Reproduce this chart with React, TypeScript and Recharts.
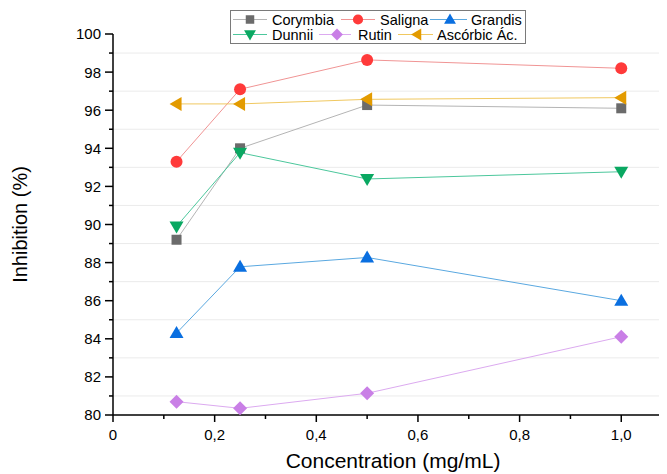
import React from 'react';
import { LineChart, Line, XAxis, YAxis, ReferenceLine } from 'recharts';

// ---- data ----
const concentrations = [0.125, 0.25, 0.5, 1.0];
const corymbia = [89.2, 94.0, 96.27, 96.1];
const saligna = [93.3, 97.1, 98.64, 98.2];
const grandis = [84.3, 87.78, 88.27, 86.0];
const dunnii = [89.9, 93.77, 92.39, 92.77];
const rutin = [80.7, 80.35, 81.14, 84.11];
const ascorbic = [96.33, 96.33, 96.57, 96.66];

const xTicks = [0, 0.1, 0.2, 0.3, 0.4, 0.5, 0.6, 0.7, 0.8, 0.9, 1.0];
const xLabeled = [0, 0.2, 0.4, 0.6, 0.8, 1.0];
const yTicks = [80, 81, 82, 83, 84, 85, 86, 87, 88, 89, 90, 91, 92, 93, 94, 95, 96, 97, 98, 99, 100];
const yLabeled = [80, 82, 84, 86, 88, 90, 92, 94, 96, 98, 100];
const gridValues = [81, 83, 85, 87, 89, 91, 93, 95, 97, 99];

type Kind = 'square' | 'circle' | 'up' | 'down' | 'diamond' | 'left';

const series: { key: string; name: string; values: number[]; marker: string; line: string; kind: Kind }[] = [
  { key: 'corymbia', name: 'Corymbia', values: corymbia, marker: '#6b6b6b', line: '#b4b4b4', kind: 'square' },
  { key: 'saligna', name: 'Saligna', values: saligna, marker: '#ff3a3a', line: '#f09494', kind: 'circle' },
  { key: 'grandis', name: 'Grandis', values: grandis, marker: '#0a6fe0', line: '#5aa8e0', kind: 'up' },
  { key: 'dunnii', name: 'Dunnii', values: dunnii, marker: '#0aa862', line: '#4cc79c', kind: 'down' },
  { key: 'rutin', name: 'Rutin', values: rutin, marker: '#c97fe6', line: '#dcaaf0', kind: 'diamond' },
  { key: 'ascorbic', name: 'Ascórbic Ác.', values: ascorbic, marker: '#e39b00', line: '#f0c860', kind: 'left' },
];

const data = concentrations.map((x, i) => {
  const row: Record<string, number> = { x };
  series.forEach((s) => {
    row[s.key] = s.values[i];
  });
  return row;
});

const FONT = '"Liberation Sans", Arial, sans-serif';

function Marker({ kind, cx, cy, color, s = 1 }: { kind: Kind; cx: number; cy: number; color: string; s?: number }) {
  if (cx == null || cy == null) return null;
  switch (kind) {
    case 'square':
      return <rect x={cx - 5 * s} y={cy - 5 * s} width={10 * s} height={10 * s} fill={color} />;
    case 'circle':
      return <circle cx={cx} cy={cy} r={6 * s} fill={color} />;
    case 'up':
      return <polygon points={`${cx},${cy - 7 * s} ${cx - 7 * s},${cy + 5 * s} ${cx + 7 * s},${cy + 5 * s}`} fill={color} />;
    case 'down':
      return <polygon points={`${cx},${cy + 7 * s} ${cx - 7 * s},${cy - 5 * s} ${cx + 7 * s},${cy - 5 * s}`} fill={color} />;
    case 'diamond':
      return <polygon points={`${cx},${cy - 7 * s} ${cx + 7 * s},${cy} ${cx},${cy + 7 * s} ${cx - 7 * s},${cy}`} fill={color} />;
    case 'left':
      return <polygon points={`${cx - 7 * s},${cy} ${cx + 5 * s},${cy - 7 * s} ${cx + 5 * s},${cy + 7 * s}`} fill={color} />;
  }
  return null;
}

const fmt = (v: number) => (v === 0 ? '0' : v.toFixed(1).replace('.', ','));

function XTick(props: any) {
  const { x, y, payload } = props;
  const v = payload.value as number;
  const major = xLabeled.some((m) => Math.abs(m - v) < 1e-9);
  return (
    <g>
      <line x1={x} x2={x} y1={y} y2={y + (major ? 7 : 4)} stroke="#000" strokeWidth={1.5} />
      {major && (
        <text x={x} y={y + 25} textAnchor="middle" fontSize={15} fontFamily={FONT} fill="#000">
          {fmt(v)}
        </text>
      )}
    </g>
  );
}

function YTick(props: any) {
  const { x, y, payload } = props;
  const v = payload.value as number;
  const major = yLabeled.includes(v);
  return (
    <g>
      <line x1={x} x2={x - (major ? 8 : 4)} y1={y} y2={y} stroke="#000" strokeWidth={1.5} />
      {major && (
        <text x={x - 12} y={y} dy="0.36em" textAnchor="end" fontSize={15} fontFamily={FONT} fill="#000">
          {v}
        </text>
      )}
    </g>
  );
}

const legendLayout = [
  { row: 0, l0: 3, l1: 37, m: 20, t: 42 },
  { row: 0, l0: 111, l1: 145, m: 128, t: 150 },
  { row: 0, l0: 200, l1: 237, m: 220, t: 241 },
  { row: 1, l0: 3, l1: 37, m: 20, t: 42 },
  { row: 1, l0: 89, l1: 121, m: 107, t: 128 },
  { row: 1, l0: 168, l1: 203, m: 187, t: 207 },
];

function LegendBox() {
  return (
    <svg width={297} height={35} style={{ position: 'absolute', left: 222, top: 2 }}>
      <rect x={0.5} y={0.5} width={295} height={33} fill="#fff" stroke="#7a7a7a" strokeWidth={1} />
      {series.map((s, i) => {
        const L = legendLayout[i];
        const cy = L.row === 0 ? 9.5 : 24.5;
        return (
          <g key={s.key}>
            <line x1={L.l0} x2={L.l1} y1={cy} y2={cy} stroke={s.line} strokeWidth={1} />
            <Marker kind={s.kind} cx={L.m} cy={cy} color={s.marker} s={0.85} />
            <text x={L.t} y={cy} dy="0.36em" fontSize={14.5} fontFamily={FONT} fill="#000">
              {s.name}
            </text>
          </g>
        );
      })}
    </svg>
  );
}

export default function App() {
  return (
    <div style={{ position: 'relative', width: 659, height: 466 }}>
      <LineChart width={659} height={466} data={data} margin={{ top: 26, right: 0, bottom: 0, left: 0 }}>
        {gridValues.map((g) => (
          <ReferenceLine key={g} y={g} stroke="#ebebeb" strokeWidth={1} />
        ))}
        <XAxis
          dataKey="x"
          type="number"
          domain={[0, 1.09]}
          ticks={xTicks}
          interval={0}
          allowDataOverflow
          height={59}
          tickSize={0}
          tickMargin={0}
          tickLine={false}
          tick={<XTick />}
          axisLine={{ stroke: '#000', strokeWidth: 1.5 }}
          label={{
            content: (p: any) => {
              const vb = p.viewBox;
              return (
                <text x={vb.x + vb.width / 2 + 3} y={vb.y + 53} textAnchor="middle" fontSize={21} fontFamily={FONT} fill="#000">
                  Concentration (mg/mL)
                </text>
              );
            },
          }}
        />
        <YAxis
          type="number"
          domain={[80, 100]}
          ticks={yTicks}
          interval={0}
          width={105}
          tickSize={0}
          tickMargin={0}
          tickLine={false}
          tick={<YTick />}
          axisLine={{ stroke: '#000', strokeWidth: 1.5 }}
          label={{
            content: (p: any) => {
              const vb = p.viewBox;
              const cy = vb.y + vb.height / 2;
              return (
                <text x={12} y={cy} transform={`rotate(-90 12 ${cy})`} textAnchor="middle" dy="0.35em" fontSize={20} fontFamily={FONT} fill="#000">
                  Inhibition (%)
                </text>
              );
            },
          }}
        />
        {series.map((s) => (
          <Line
            key={s.key}
            dataKey={s.key}
            name={s.name}
            type="linear"
            stroke={s.line}
            strokeWidth={1}
            isAnimationActive={false}
            activeDot={false}
            dot={(p: any) => <Marker key={`${s.key}-${p.index}`} kind={s.kind} cx={p.cx} cy={p.cy} color={s.marker} />}
          />
        ))}
      </LineChart>
      <LegendBox />
    </div>
  );
}
